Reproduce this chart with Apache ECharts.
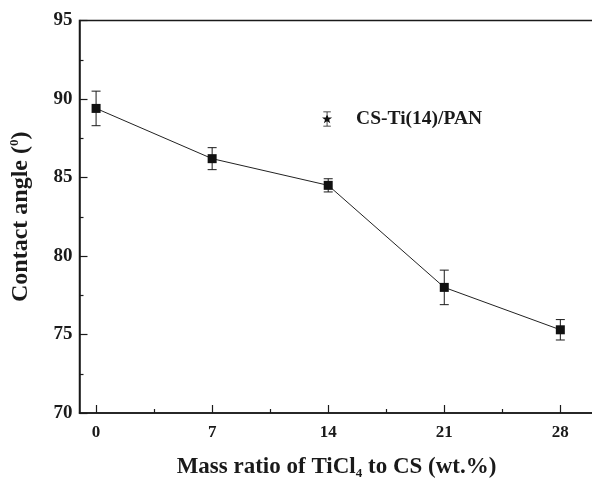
<!DOCTYPE html>
<html>
<head>
<meta charset="utf-8">
<script src="https://cdn.jsdelivr.net/npm/echarts@6/dist/echarts.min.js"></script>
<style>
html,body{margin:0;padding:0;background:#fff;}
#chart{width:592px;height:481px;}
</style>
</head>
<body>
<div id="chart"></div>
<script>
// Data
const massRatio = [0, 7, 14, 21, 28];
const contactAngle = [89.4, 86.2, 84.5, 78.0, 75.3];
const errorBar = [1.1, 0.7, 0.42, 1.1, 0.65];
const xMajorTicks = [0, 7, 14, 21, 28];
const xMinorTicks = [3.5, 10.5, 17.5, 24.5];
const seriesName = 'CS-Ti(14)/PAN';

const FONT = '"Liberation Serif", "Times New Roman", serif';
const INK = '#1a1a1a';

const chart = echarts.init(document.getElementById('chart'), null, {renderer: 'canvas'});

const lineData = massRatio.map((x, i) => [x, contactAngle[i]]);
const errData = massRatio.map((x, i) => [x, contactAngle[i] - errorBar[i], contactAngle[i] + errorBar[i]]);

const legendIcon = 'path://M-4,-8 L4,-8 L4,-7.2 L0.4,-7.2 L0.4,7.2 L4,7.2 L4,8 L-4,8 L-4,7.2 L-0.4,7.2 L-0.4,-7.2 L-4,-7.2 Z ' +
  'M0,-5.5 L1.4,-1.7 L5.4,-1.7 L2.2,0.7 L3.4,4.6 L0,2.2 L-3.4,4.6 L-2.2,0.7 L-5.4,-1.7 L-1.4,-1.7 Z';

chart.setOption({
  animation: false,
  backgroundColor: '#fff',
  grid: {
    left: 79.5, right: -1.5, top: 20.5, bottom: 68,
    outerBoundsMode: 'none', containLabel: false,
    show: true, borderColor: INK, borderWidth: 1.5, backgroundColor: 'transparent'
  },
  legend: {
    data: [{name: seriesName, icon: legendIcon}],
    left: 317, top: 104,
    itemWidth: 12, itemHeight: 15,
    textStyle: {fontFamily: FONT, fontWeight: 'bold', fontSize: 19.5, color: INK, padding: [0, 0, 0, 18]},
    selectedMode: false
  },
  xAxis: [{
    type: 'value', min: -1, max: 30,
    position: 'bottom',
    name: 'Mass ratio of TiCl{sub|4} to CS (wt.%)',
    nameLocation: 'middle', nameGap: 41,
    nameTextStyle: {
      fontFamily: FONT, fontWeight: 'bold', fontSize: 23, color: INK,
      rich: {sub: {fontFamily: FONT, fontWeight: 'bold', fontSize: 13, color: INK, padding: [13, 0, 0, 0]}}
    },
    axisLine: {show: true, onZero: false, lineStyle: {color: INK, width: 1.5}},
    axisTick: {show: true, inside: true, length: 8, customValues: xMajorTicks, lineStyle: {color: INK, width: 1.2}},
    axisLabel: {customValues: xMajorTicks, margin: 11, fontFamily: FONT, fontWeight: 'bold', fontSize: 17, color: INK},
    splitLine: {show: false}
  }, {
    type: 'value', min: -1, max: 30,
    position: 'bottom',
    axisLine: {show: false, onZero: false},
    axisTick: {show: true, inside: true, length: 4, customValues: xMinorTicks, lineStyle: {color: INK, width: 1.2}},
    axisLabel: {show: false},
    splitLine: {show: false}
  }],
  yAxis: {
    type: 'value', min: 70, max: 95, interval: 5,
    name: 'Contact angle ({sup|0})',
    nameLocation: 'middle', nameGap: 47,
    nameTextStyle: {
      fontFamily: FONT, fontWeight: 'bold', fontSize: 24, color: INK,
      rich: {sup: {fontFamily: FONT, fontWeight: 'bold', fontSize: 13, color: INK, padding: [0, 0, 11, 0]}}
    },
    axisLine: {show: true, onZero: false, lineStyle: {color: INK, width: 1.5}},
    axisTick: {show: true, inside: true, length: 8, lineStyle: {color: INK, width: 1.2}},
    minorTick: {show: true, splitNumber: 2, length: 4, lineStyle: {color: INK, width: 1.2}},
    minorSplitLine: {show: false},
    axisLabel: {margin: 7, fontFamily: FONT, fontWeight: 'bold', fontSize: 19, color: INK},
    splitLine: {show: false}
  },
  series: [{
    type: 'custom',
    name: 'err',
    xAxisIndex: 0,
    data: errData,
    z: 3,
    silent: true,
    renderItem: function (params, api) {
      const x = api.value(0);
      const lo = api.coord([x, api.value(1)]);
      const hi = api.coord([x, api.value(2)]);
      const w = 4.5;
      const style = {stroke: INK, lineWidth: 1, fill: null};
      return {
        type: 'group',
        children: [
          {type: 'line', shape: {x1: lo[0], y1: lo[1], x2: hi[0], y2: hi[1]}, style: style},
          {type: 'line', shape: {x1: hi[0] - w, y1: hi[1], x2: hi[0] + w, y2: hi[1]}, style: style},
          {type: 'line', shape: {x1: lo[0] - w, y1: lo[1], x2: lo[0] + w, y2: lo[1]}, style: style}
        ]
      };
    }
  }, {
    type: 'line',
    name: seriesName,
    xAxisIndex: 0,
    data: lineData,
    symbol: 'rect',
    symbolSize: 9,
    z: 4,
    itemStyle: {color: '#111'},
    lineStyle: {color: '#222', width: 1},
    silent: true
  }]
});
</script>
</body>
</html>
